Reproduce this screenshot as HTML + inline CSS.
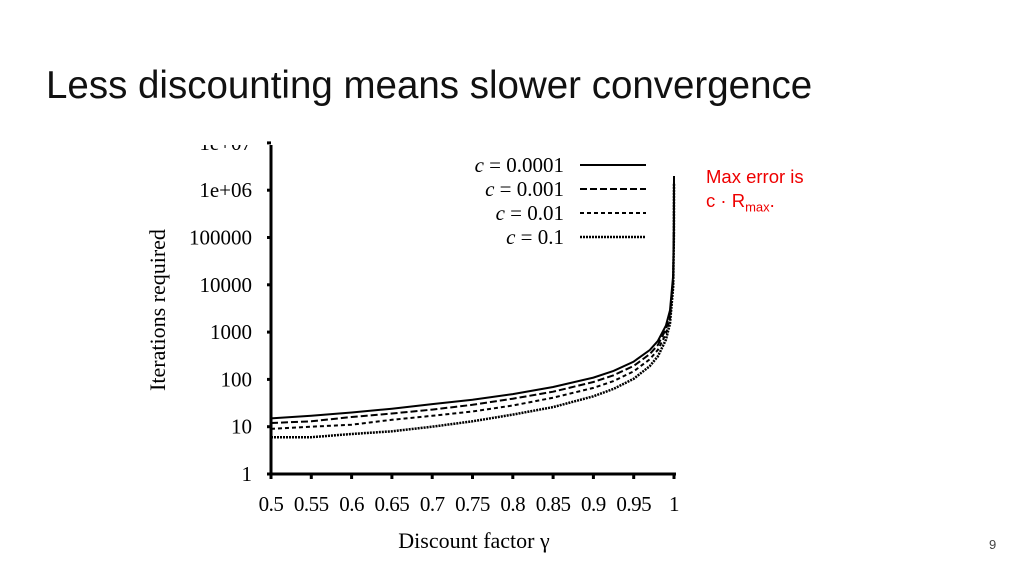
<!DOCTYPE html>
<html><head><meta charset="utf-8"><style>
body{margin:0;width:1024px;height:576px;background:#fff;overflow:hidden;position:relative;font-family:"Liberation Sans",sans-serif}
#title{position:absolute;left:46px;top:64px;font-size:38.5px;color:#111;white-space:nowrap}
#note{position:absolute;left:706px;top:165px;font-size:18.5px;color:#e00;line-height:24px}
#pg{position:absolute;left:989px;top:537px;font-size:13px;color:#444}
svg{position:absolute;left:0;top:0}
</style></head><body>
<div id="title">Less discounting means slower convergence</div>
<div id="note">Max error is<br>c · R<sub style="font-size:13px">max</sub>.</div>
<div id="pg">9</div>
<svg id="chart" width="1024" height="576" font-family="Liberation Serif, serif"></svg>
<script>
const gammas=[0.5,0.55,0.6,0.65,0.7,0.75,0.8,0.85,0.9,0.925,0.95,0.97,0.98,0.99,0.995,0.999,0.9999,0.99999];
const s0001=[15,17,20,24,30,37,49,69,109,151,238,418,650,1375,2900,16100,184000,2000000];
const s001=[12,13,16,19,23,29,39,55,88,122,193,342,536,1146,2435,13800,161000,1840000];
const s01=[9,10,11,14,17,21,28,41,66,92,148,266,422,917,1980,11500,138000,1610000];
const s1=[6,6,7,8,10,13,18,26,44,63,103,191,308,688,1520,9210,115000,1380000];
const seriesNames=["c = 0.0001","c = 0.001","c = 0.01","c = 0.1"];
const xTicks=["0.5","0.55","0.6","0.65","0.7","0.75","0.8","0.85","0.9","0.95","1"];
const yTicks=["1","10","100","1000","10000","100000","1e+06","1e+07"];
const NS="http://www.w3.org/2000/svg";
const svg=document.getElementById('chart');
const X0=271,X1=674,Y0=474,DEC=47.3;
const xs=g=>X0+(g-0.5)/0.5*(X1-X0);
const ys=v=>Y0-Math.log10(v)*DEC;
function el(t,a){const e=document.createElementNS(NS,t);for(const k in a)e.setAttribute(k,a[k]);svg.appendChild(e);return e;}
const clip=el('clipPath',{id:'cp'});const cr=document.createElementNS(NS,'rect');cr.setAttribute('x',0);cr.setAttribute('y',145);cr.setAttribute('width',1024);cr.setAttribute('height',400);clip.appendChild(cr);
let a=el('line',{x1:X0,y1:145,x2:X0,y2:Y0+2,stroke:'#000','stroke-width':3});

a=el('line',{x1:X0-2,y1:Y0,x2:X1+2,y2:Y0,stroke:'#000','stroke-width':3});

yTicks.forEach((t,i)=>{const y=Y0-i*DEC;
 const tk=el('line',{x1:X0-4,y1:y,x2:X0,y2:y,stroke:'#000','stroke-width':3});
 
 const tx=el('text',{x:252,y:y+7,'text-anchor':'end','font-size':21,'clip-path':'url(#cp)'});tx.textContent=t;
 });
xTicks.forEach(t=>{const x=xs(parseFloat(t));
 const tk=el('line',{x1:x,y1:Y0,x2:x,y2:Y0+5,stroke:'#000','stroke-width':3});
 
 const tx=el('text',{x:x,y:511,'text-anchor':'middle','font-size':21,'letter-spacing':'-0.5'});tx.textContent=t;
 });
let t=el('text',{x:474,y:548,'text-anchor':'middle','font-size':22});t.textContent='Discount factor γ';

t=el('text',{x:0,y:0,'text-anchor':'middle','font-size':22,transform:'translate(165,310) rotate(-90)'});t.textContent='Iterations required';

const all=[s0001,s001,s01,s1];
const dashes=['none','7,3','4,3','2,1'];
const widths=[2,2,2,2.5];
all.forEach((s,k)=>{
 const d=gammas.map((g,i)=>(i?'L':'M')+xs(g).toFixed(1)+','+ys(s[i]).toFixed(1)).join(' ');
 const p=el('path',{d:d,fill:'none',stroke:'#000','stroke-width':widths[k],'stroke-dasharray':dashes[k],'clip-path':'url(#cp)'});
 
 const ly=165+k*24;
 const lt=el('text',{x:564,y:ly+7,'text-anchor':'end','font-size':21});lt.innerHTML='<tspan font-style="italic">c</tspan>'+seriesNames[k].slice(1);
 
 const ll=el('line',{x1:580,y1:ly,x2:646,y2:ly,stroke:'#000','stroke-width':widths[k],'stroke-dasharray':dashes[k]});
 
});
</script>
</body></html>
